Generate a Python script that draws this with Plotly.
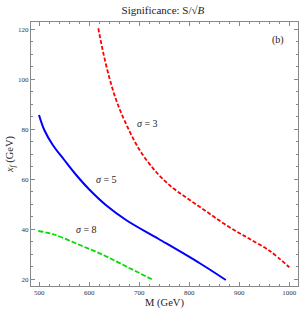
import plotly.graph_objects as go

# sigma = 3 contour (red dashed)
m_s3 = [618, 628, 641, 655, 675, 701, 735, 768, 801, 835, 868, 898, 921, 961, 1000]
xf_s3 = [120.4, 110.5, 100, 91, 81.5, 71.6, 62.6, 56.4, 51.7, 47, 42.4, 38.7, 36.1, 31.3, 24.8]

# sigma = 5 contour (blue solid)
m_s5 = [499.4, 510, 527, 550, 573, 600, 633, 675, 738, 821, 873]
xf_s5 = [85.7, 79.7, 73.7, 67.7, 61.9, 55.9, 49.7, 43.5, 36.2, 26.4, 19.7]

# sigma = 8 contour (green dashed)
m_s8 = [498, 528, 581, 628, 675, 725]
xf_s8 = [39.3, 38, 33.7, 29.7, 25, 20]

labels_text = ["σ = 3", "σ = 5", "σ = 8", "(b)"]
labels_m = [717, 635, 595, 978]
labels_xf = [82.2, 60, 40, 115.8]

FONT = "Liberation Serif, Times New Roman, serif"

fig = go.Figure()
fig.add_trace(go.Scatter(x=m_s3, y=xf_s3, mode="lines", line=dict(color="#ff0000", width=1.8, dash="4px,2px", shape="spline", smoothing=1.0), showlegend=False))
fig.add_trace(go.Scatter(x=m_s5, y=xf_s5, mode="lines", line=dict(color="#0000ff", width=2, shape="spline", smoothing=1.0), showlegend=False))
fig.add_trace(go.Scatter(x=m_s8, y=xf_s8, mode="lines", line=dict(color="#00dd00", width=1.8, dash="5px,2px", shape="spline", smoothing=1.0), showlegend=False))

for t, xm, yv in zip(labels_text, labels_m, labels_xf):
    txt = t
    if t.startswith("σ"):
        txt = "<i>σ</i>" + t[1:]
    fig.add_annotation(x=xm, y=yv, text=txt, showarrow=False,
                       font=dict(family=FONT, size=10, color="#222"))

axis_common = dict(
    showgrid=False, zeroline=False, showline=True, linecolor="#888", linewidth=1,
    mirror="allticks", ticks="inside", ticklen=4, tickcolor="#888", tickwidth=1,
    tickfont=dict(family=FONT, size=7, color="#333"), automargin=False,
)

fig.update_layout(
    width=299, height=317,
    margin=dict(l=31, r=1, t=22, b=31),
    paper_bgcolor="white", plot_bgcolor="white",
    title=dict(text="Significance: S/√<i>B</i>", x=0.545, xanchor="center", y=0.967, yanchor="middle",
               font=dict(family=FONT, size=11, color="#222")),
    xaxis=dict(range=[483.4, 1017.4], tickvals=[500, 600, 700, 800, 900, 1000],
               minor=dict(ticks="inside", dtick=20, tick0=500, ticklen=2, tickcolor="#888"),
               title=dict(text="M (GeV)", font=dict(family=FONT, size=10.5, color="#222"), standoff=2),
               **axis_common),
    yaxis=dict(range=[17.3, 122.9], tickvals=[20, 40, 60, 80, 100, 120],
               minor=dict(ticks="inside", dtick=5, tick0=20, ticklen=2, tickcolor="#888"),
               title=dict(text="<i>x<sub>f</sub></i> (GeV)", font=dict(family=FONT, size=10.5, color="#222"), standoff=2),
               **axis_common),
)

fig.write_html("out.html", config={"displayModeBar": False},
               post_script="document.body.style.margin='0px';document.body.style.overflow='hidden';")
